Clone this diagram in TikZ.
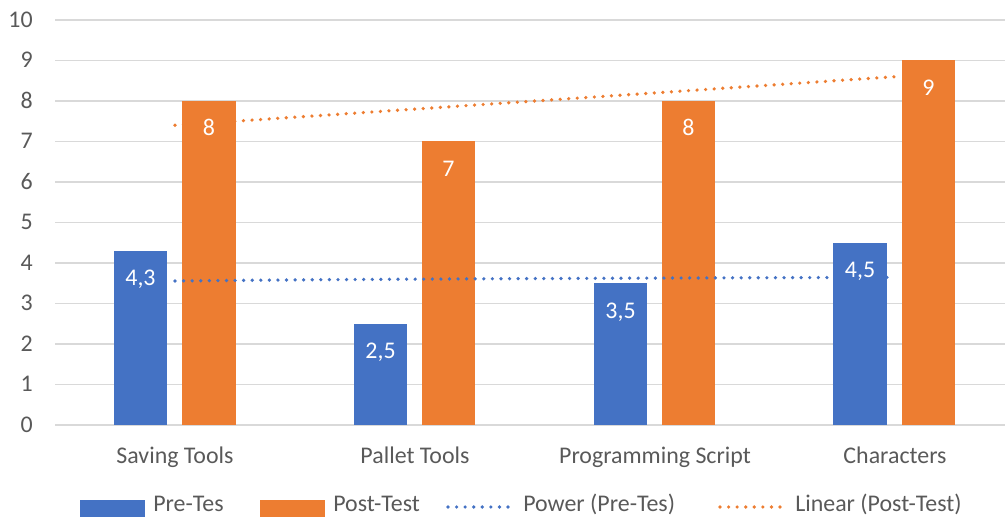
\documentclass[tikz,border=0pt]{standalone}
\usepackage{fontspec}
\setmainfont{Carlito}
\definecolor{preblue}{HTML}{4472C4}
\definecolor{postorange}{HTML}{ED7D31}
\definecolor{gridgray}{HTML}{D9D9D9}
\definecolor{axistext}{HTML}{595959}

\begin{document}
\begin{tikzpicture}[x=0.025cm,y=0.025cm,font=\fontsize{17}{20}\selectfont,
  gridline/.style={gridgray,line width=1.1pt},
  prebar/.style={fill=preblue},
  postbar/.style={fill=postorange},
  trend/.style={line width=2.6pt,line cap=round,dash pattern=on 0pt off 6.1pt},
  vallabel/.style={white,anchor=base,inner sep=0pt},
  ticklabel/.style={axistext,anchor=base east,inner sep=0pt},
  catlabel/.style={axistext,anchor=base,inner sep=0pt},
  legtext/.style={axistext,anchor=base west,inner sep=0pt}]
\useasboundingbox (0,0) rectangle (1005,517);
% grid and y axis
\foreach \v in {0,...,10} {
  \draw [gridline] (55,{92+40.5*\v}) -- (1005,{92+40.5*\v});
  \node [ticklabel] (tick\v) at (33,{84.5+40.5*\v}) {\v};
}
% bars
\fill [prebar] (114,92) rectangle (167,266.15);
\fill [postbar] (182,92) rectangle (236,416);
\fill [prebar] (354,92) rectangle (407,193.25);
\fill [postbar] (422,92) rectangle (475,375.5);
\fill [prebar] (594,92) rectangle (647,233.75);
\fill [postbar] (662,92) rectangle (715,416);
\fill [prebar] (833,92) rectangle (887,274.25);
\fill [postbar] (902,92) rectangle (955,456.5);
% trend lines
\draw [trend,preblue] plot [domain=1:4,samples=25] ({175+240*(\x-1)},{92+40.5*3.5566*(\x)^0.01784});
\draw [trend,postorange] (175,391.7) -- (895,440.3);
% value labels
\node [vallabel] (valA) at (140.5,231.15) {4,3};
\node [vallabel] (valB) at (209,381) {8};
\node [vallabel] (valC) at (380.5,158.25) {2,5};
\node [vallabel] (valD) at (448.5,340.5) {7};
\node [vallabel] (valE) at (620.5,198.75) {3,5};
\node [vallabel] (valF) at (688.5,381) {8};
\node [vallabel] (valG) at (860,239.25) {4,5};
\node [vallabel] (valH) at (928.5,421.5) {9};
% categories
\node [catlabel] (saving) at (175,53) {Saving Tools};
\node [catlabel] (pallet) at (415,53) {Pallet Tools};
\node [catlabel] (script) at (655,53) {Programming Script};
\node [catlabel] (chars) at (895,53) {Characters};
% legend
\fill [prebar] (80,0) rectangle (145,17);
\node [legtext] (legPre) at (153,5) {Pre-Tes};
\fill [postbar] (260,0) rectangle (325,17);
\node [legtext] (legPost) at (333,5) {Post-Test};
\coordinate (powA) at (448,10);
\coordinate (powB) at (510,10);
\draw [trend,preblue] (powA) -- (powB);
\node [legtext] (legPow) at (523,5) {Power (Pre-Tes)};
\coordinate (linA) at (720,10);
\coordinate (linB) at (782,10);
\draw [trend,postorange] (linA) -- (linB);
\node [legtext] (legLin) at (795,5) {Linear (Post-Test)};
\end{tikzpicture}
\end{document}
